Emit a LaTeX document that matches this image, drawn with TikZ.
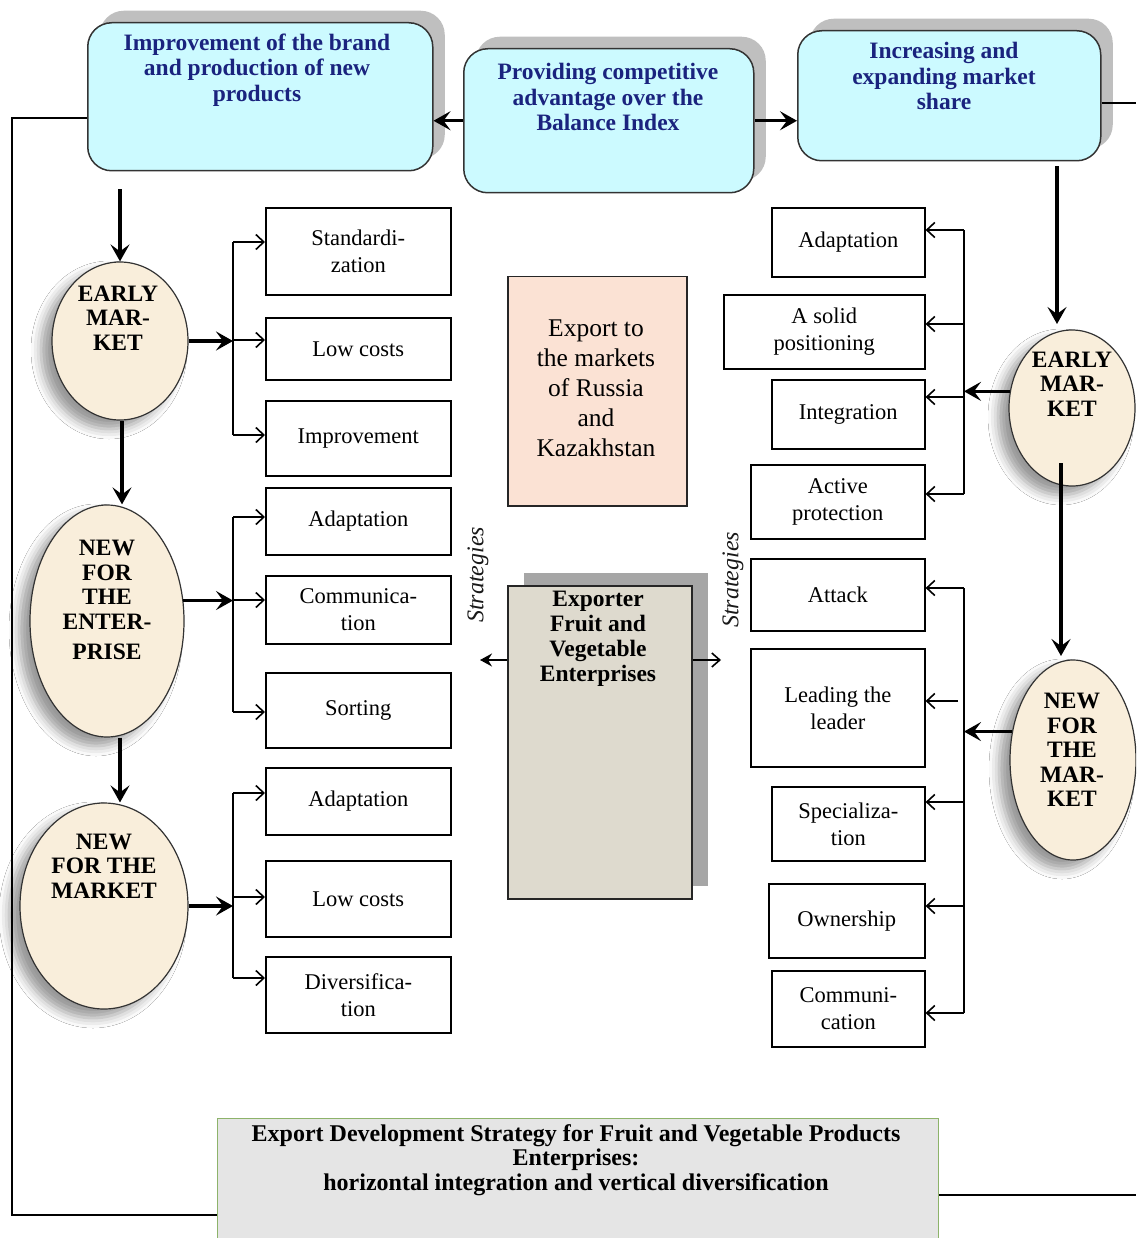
\documentclass[tikz,border=0pt]{standalone}
\usepackage{fontspec}
\setmainfont{Liberation Serif}
\usetikzlibrary{arrows.meta,shadows,shadows.blur,shapes.geometric}
\definecolor{cyanbox}{HTML}{CCFAFF}
\definecolor{navytxt}{HTML}{1A237E}
\definecolor{eggfill}{HTML}{F9EEDB}
\definecolor{peach}{HTML}{FBE2D4}
\definecolor{exporterfill}{HTML}{DEDACE}
\definecolor{bottomfill}{HTML}{E5E5E5}
\definecolor{bottomedge}{HTML}{8DB36A}
\tikzset{
 topbox/.style={draw=black!80, line width=1.5pt, fill=cyanbox, rounded corners=24pt, anchor=north west,
   drop shadow={shadow xshift=12pt, shadow yshift=12pt, fill=black!25, opacity=1}},
 toptext/.style={font=\fontsize{23.5}{25.5}\selectfont\bfseries, text=navytxt, align=center},
 egg/.style={draw=black!80, line width=1.2pt, fill=eggfill, ellipse, inner sep=0pt,
   blur shadow={shadow xshift=-11pt, shadow yshift=-9pt, shadow blur radius=10pt, shadow opacity=40}},
 eggtext/.style={font=\fontsize{23.5}{24.5}\selectfont\bfseries, align=center},
 sbox/.style={draw=black, line width=1.6pt, fill=white, font=\fontsize{22.5}{27}\selectfont, align=center, inner sep=0pt, anchor=north west},
 bigarrow/.style={line width=3.5pt, -{Stealth[length=17pt,width=19pt,inset=7pt]}},
 smallarrow/.style={line width=1.6pt, -{Straight Barb[length=8pt,width=15pt]}},
 branch/.style={line width=1.6pt},
 loopline/.style={line width=1.8pt},
 strat/.style={font=\fontsize{24}{26}\selectfont\itshape, text=black!90, rotate=90},
}
\begin{document}
\begin{tikzpicture}[x=1pt,y=-1pt]
\clip (0,0) rectangle (1136,1238);
\fill[white] (0,0) rectangle (1136,1238);

% ---- top boxes
\node[topbox, minimum width=345pt, minimum height=148pt] (A) at (87,22) {};
\node[toptext] (At) at (257,70) {Improvement of the brand\\and production of new\\products};
\node[topbox, minimum width=290pt, minimum height=144pt] (B) at (463,48) {};
\node[toptext] (Bt) at (608,97) {Providing competitive\\advantage over the\\Balance Index};
\node[topbox, minimum width=303pt, minimum height=130pt] (C) at (797,30) {};
\node[toptext] (Ct) at (944,76) {Increasing and\\expanding market\\share};
\draw[bigarrow] (B.west) -- (B.west -| A.east);
\draw[bigarrow] (B.east) -- (B.east -| C.west);

% ---- bottom box
\node[draw=bottomedge, line width=1.2pt, fill=bottomfill, anchor=north west, minimum width=721pt, minimum height=140pt] (bot) at (217,1118) {};
\node[font=\fontsize{24}{24.5}\selectfont\bfseries, align=center] (bott) at (576,1160)
 {Export Development Strategy for Fruit and Vegetable Products\\Enterprises:\\horizontal integration and vertical diversification};

% ---- loop lines
\coordinate (lp1) at (12,118);
\coordinate (lp2) at (12,1215);
\draw[loopline] (lp1 -| A.west) -- (lp1) -- (lp2) -- (lp2 -| bot.west);
\coordinate (rp1) at (1136,103);
\coordinate (rp2) at (1136,1195);
\draw[loopline] (rp1 -| C.east) -- (rp1);
\draw[loopline] (rp2 -| bot.east) -- (rp2);

% ---- left ellipses
\node[egg, minimum width=136pt, minimum height=158pt] (e1) at (120,341) {};
\node[eggtext] (e1t) at (118,318) {EARLY\\MAR-\\KET};
\node[egg, minimum width=154pt, minimum height=232pt] (e2) at (107,621) {};
\node[eggtext] (e2t) at (107,600) {NEW\\FOR\\THE\\ENTER-\\[6pt]PRISE};
\node[egg, minimum width=168pt, minimum height=206pt] (e3) at (104,906) {};
\node[eggtext] (e3t) at (104,866) {NEW\\FOR THE\\MARKET};

\draw[bigarrow] ([yshift=-18pt]A.south -| e1.north) -- (e1.north);
\draw[bigarrow] ([xshift=2pt]e1.south) -- ([xshift=2pt]e1.south |- e2.north);
\draw[bigarrow] ([xshift=13pt]e2.south) -- ([xshift=13pt]e2.south |- e3.north);

% ---- left boxes
\node[sbox, minimum width=185pt, minimum height=87pt] (l1) at (265,207) {Standardi-\\zation};
\node[sbox, minimum width=185pt, minimum height=62pt] (l2) at (265,317) {Low costs};
\node[sbox, minimum width=185pt, minimum height=75pt] (l3) at (265,400) {Improvement};
\node[sbox, minimum width=185pt, minimum height=67pt] (l4) at (265,487) {Adaptation};
\node[sbox, minimum width=185pt, minimum height=68pt] (l5) at (265,575) {Communica-\\tion};
\node[sbox, minimum width=185pt, minimum height=75pt] (l6) at (265,672) {Sorting};
\node[sbox, minimum width=185pt, minimum height=67pt] (l7) at (265,767) {Adaptation};
\node[sbox, minimum width=185pt, minimum height=76pt] (l8) at (265,860) {Low costs};
\node[sbox, minimum width=185pt, minimum height=76pt] (l9) at (265,956) {Diversifica-\\tion};

% group 1
\coordinate (g1a) at (233,242);
\coordinate (g1b) at (233,340);
\coordinate (g1c) at (233,435);
\draw[branch] (g1a) -- (g1c);
\draw[bigarrow] (e1.east) -- (e1.east -| g1b);
\draw[smallarrow] (g1a) -- (g1a -| l1.west);
\draw[smallarrow] (g1b) -- (g1b -| l2.west);
\draw[smallarrow] (g1c) -- (g1c -| l3.west);
% group 2
\coordinate (g2a) at (233,517);
\coordinate (g2b) at (233,600);
\coordinate (g2c) at (233,712);
\draw[branch] (g2a) -- (g2c);
\draw[bigarrow] (e2.15) -- (e2.15 -| g2b);
\draw[smallarrow] (g2a) -- (g2a -| l4.west);
\draw[smallarrow] (g2b) -- (g2b -| l5.west);
\draw[smallarrow] (g2c) -- (g2c -| l6.west);
% group 3
\coordinate (g3a) at (233,793);
\coordinate (g3b) at (233,897);
\coordinate (g3c) at (233,978);
\draw[branch] (g3a) -- (g3c);
\draw[bigarrow] (e3.east) -- (e3.east -| g3b);
\draw[smallarrow] (g3a) -- (g3a -| l7.west);
\draw[smallarrow] (g3b) -- (g3b -| l8.west);
\draw[smallarrow] (g3c) -- (g3c -| l9.west);

% ---- centre boxes
\node[draw=black!85, line width=1.5pt, fill=peach, anchor=north west, minimum width=179pt, minimum height=229pt] (exp) at (507,276) {};
\node[font=\fontsize{25.5}{30}\selectfont, align=center] (expt) at (596,388) {Export to\\the markets\\of Russia\\and\\Kazakhstan};
\node[draw=black!85, line width=1.5pt, fill=exporterfill, anchor=north west, minimum width=184pt, minimum height=313pt,
  drop shadow={shadow xshift=16pt, shadow yshift=13pt, fill=black!35, opacity=1}] (ex) at (507,585) {};
\node[font=\fontsize{23.5}{25}\selectfont\bfseries, align=center] (ext) at (598,639) {Exporter\\Fruit and\\Vegetable\\Enterprises};
\coordinate (exl) at (480,660);
\coordinate (exr) at (721,660);
\draw[line width=1.6pt, -{Stealth[length=12pt,width=13pt,inset=4pt]}] (exl -| ex.west) -- (exl);
\draw[line width=1.6pt, -{Straight Barb[length=8pt,width=14pt]}] (exr -| ex.east) -- (exr);
\node[strat] (s1) at (478,575) {Strategies};
\node[strat] (s2) at (733,580) {Strategies};

% ---- right ellipses
\node[egg, minimum width=126pt, minimum height=156pt] (e4) at (1072,408) {};
\node[eggtext] (e4t) at (1072,384) {EARLY\\MAR-\\KET};
\node[egg, minimum width=126pt, minimum height=200pt] (e5) at (1073,760) {};
\node[eggtext] (e5t) at (1072,750) {NEW\\FOR\\THE\\MAR-\\KET};
\draw[bigarrow] ([yshift=-5pt]C.south -| 1057,0) -- (1057,324);
\draw[bigarrow] (1061,463) -- (1061,656);

% ---- right boxes
\node[sbox, minimum width=153pt, minimum height=69pt] (r1) at (771,207) {Adaptation};
\node[sbox, minimum width=201pt, minimum height=74pt] (r2) at (723,294) {A solid\\positioning};
\node[sbox, minimum width=153pt, minimum height=69pt] (r3) at (771,379) {Integration};
\node[sbox, minimum width=174pt, minimum height=74pt] (r4) at (750,464) {Active\\protection};
\node[sbox, minimum width=174pt, minimum height=72pt] (r5) at (750,558) {Attack};
\node[sbox, minimum width=174pt, minimum height=118pt] (r6) at (750,648) {Leading the\\leader};
\node[sbox, minimum width=153pt, minimum height=74pt] (r7) at (771,786) {Specializa-\\tion};
\node[sbox, minimum width=156pt, minimum height=74pt] (r8) at (768,883) {Ownership};
\node[sbox, minimum width=153pt, minimum height=76pt] (r9) at (771,970) {Communi-\\cation};

% right group 1
\coordinate (h1a) at (964,230);
\coordinate (h1b) at (964,324);
\coordinate (h1c) at (964,397);
\coordinate (h1d) at (964,494);
\draw[branch] (h1a) -- (h1d);
\draw[bigarrow] (e4.165) -- (e4.165 -| h1a);
\draw[smallarrow] (h1a) -- (h1a -| r1.east);
\draw[smallarrow] (h1b) -- (h1b -| r2.east);
\draw[smallarrow] (h1c) -- (h1c -| r3.east);
\draw[smallarrow] (h1d) -- (h1d -| r4.east);
% right group 2
\coordinate (h2a) at (964,588);
\coordinate (h2b) at (958,701);
\coordinate (h2c) at (964,802);
\coordinate (h2d) at (964,906);
\coordinate (h2e) at (964,1013);
\draw[branch] (h2a) -- (h2e);
\draw[bigarrow] (e5.155) -- (e5.155 -| h2a);
\draw[smallarrow] (h2a) -- (h2a -| r5.east);
\draw[smallarrow] (h2b) -- (h2b -| r6.east);
\draw[smallarrow] (h2c) -- (h2c -| r7.east);
\draw[smallarrow] (h2d) -- (h2d -| r8.east);
\draw[smallarrow] (h2e) -- (h2e -| r9.east);
\end{tikzpicture}
\end{document}
